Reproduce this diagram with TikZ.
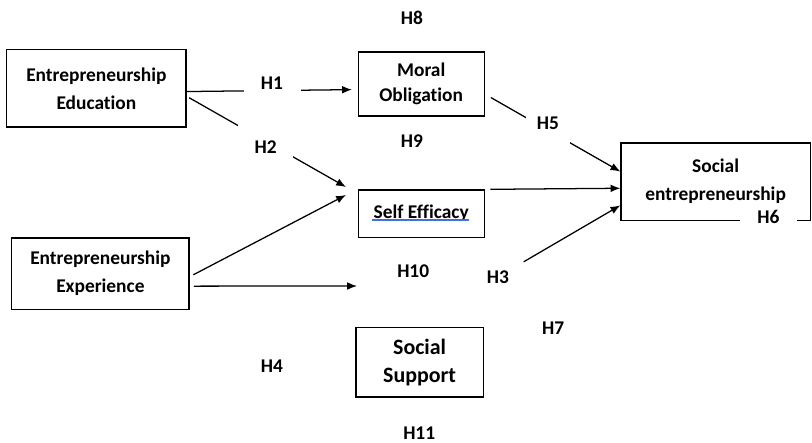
\documentclass[tikz,border=0pt]{standalone}
\usepackage{fontspec}
\setmainfont{Carlito}[Ligatures=NoCommon]
\usetikzlibrary{arrows.meta}
\definecolor{linkblue}{RGB}{66,110,222}

\begin{document}
\begin{tikzpicture}[>={Latex[length=7pt,width=5.5pt]},
    box/.style={draw, line width=0.9pt, align=center, inner sep=2pt,
      font=\fontsize{13.8}{19.8}\selectfont\bfseries},
    hyp/.style={font=\fontsize{13.8}{16}\selectfont\bfseries},
    cut/.style={hyp, fill=white},
    link/.style={->, line width=0.9pt}]
  \useasboundingbox (0,0) rectangle (20.3,11.05);
  % constructs
  \node[box, minimum width=4.48cm, minimum height=1.93cm]
    (edu) at (2.41, 8.84) {Entrepreneurship\\Education};
  \node[box, minimum width=4.43cm, minimum height=1.78cm]
    (exper) at (2.51, 4.21) {Entrepreneurship\\Experience};
  \node[box, minimum width=3.15cm, minimum height=1.6cm,
    font=\fontsize{13.8}{17.8}\selectfont\bfseries]
    (moral) at (10.53, 8.95) {Moral\\Obligation};
  \node[box, minimum width=3.15cm, minimum height=1.18cm]
    (selfeff) at (10.53, 5.71) {Self Efficacy};
  \node[box, minimum width=3.18cm, minimum height=1.73cm,
    font=\fontsize{15.6}{19.9}\selectfont\bfseries]
    (support) at (10.49, 1.99) {Social\\Support};
  \node[box, minimum width=4.73cm, minimum height=1.93cm]
    (socent) at (17.89, 6.51) {Social\\entrepreneurship};
  % blue underline under Self Efficacy
  \draw[linkblue, line width=0.8pt]
    ([shift={(-1.23,-0.16)}]selfeff.center) -- ([shift={(1.2,-0.16)}]selfeff.center);
  % free hypothesis labels
  \node[hyp] (h8) at (10.30, 10.60) {H8};
  \node[hyp] (h9) at (10.30, 7.53) {H9};
  \node[hyp] (h10) at (10.33, 4.28) {H10};
  \node[hyp] (h3) at (12.45, 4.13) {H3};
  \node[hyp] (h7) at (13.83, 2.85) {H7};
  \node[hyp] (h4) at (6.80, 1.90) {H4};
  \node[hyp] (h11) at (10.48, 0.23) {H11};
  % arrow ends short of the boxes
  \coordinate (seA) at (8.65, 6.375);
  \coordinate (seB) at (8.65, 6.175);
  \coordinate (ssA) at (8.925, 3.90);
  % paths
  \draw[link, shorten >=4pt] (edu.-2) -- (moral.185);
  \draw[link, shorten <=2pt] (edu.-5) -- (seA);
  \draw[link, shorten <=3pt] (exper.-2) -- (seB);
  \draw[link, shorten <=3pt] (exper.-8) -- (ssA);
  \draw[link, shorten <=5pt] (moral.-9) -- (socent.174);
  \draw[link, shorten <=4pt] (selfeff.north east) -- (socent.184);
  \draw[link, shorten <=8pt] (h3) -- (socent.194);
  % labels that break the lines
  \node[cut, minimum width=1.425cm, minimum height=0.6cm] (h1) at (6.80, 8.975) {H1};
  \node[cut, minimum width=1.375cm, minimum height=1.15cm] (h2) at (6.64, 7.375) {H2};
  \node[cut, minimum width=1.1cm, minimum height=1.1cm] (h5) at (13.70, 7.975) {H5};
  \node[cut, minimum width=1.425cm, inner ysep=1pt] (h6) at (19.21, 5.625) {H6};
\end{tikzpicture}
\end{document}
